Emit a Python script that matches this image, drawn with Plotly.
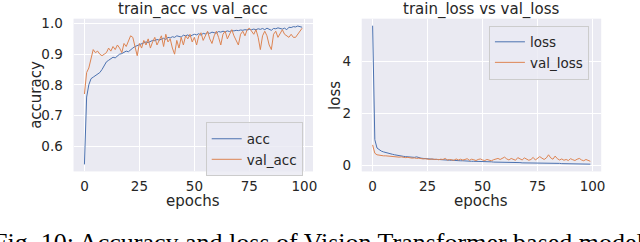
import plotly.graph_objects as go

epochs = list(range(100))

acc = [0.54, 0.76, 0.80, 0.82, 0.825, 0.83, 0.835, 0.84, 0.85, 0.865,
       0.875, 0.88, 0.885, 0.89, 0.888, 0.895, 0.90, 0.902, 0.905, 0.91,
       0.908, 0.915, 0.92, 0.925, 0.928, 0.93, 0.932, 0.935, 0.94, 0.938,
       0.942, 0.945, 0.944, 0.948, 0.946, 0.95, 0.952, 0.948, 0.955, 0.953,
       0.957, 0.955, 0.96, 0.958, 0.956, 0.962, 0.96, 0.963, 0.958, 0.962,
       0.965, 0.963, 0.967, 0.962, 0.968, 0.966, 0.97, 0.968, 0.972, 0.97,
       0.969, 0.974, 0.972, 0.975, 0.973, 0.976, 0.974, 0.977, 0.976, 0.978,
       0.977, 0.979, 0.978, 0.98, 0.979, 0.981, 0.98, 0.982, 0.98, 0.983,
       0.981, 0.984, 0.98, 0.985, 0.982, 0.978, 0.984, 0.983, 0.986, 0.984,
       0.982, 0.985, 0.98, 0.988, 0.987, 0.99, 0.989, 0.992, 0.99, 0.988]

val_acc = [0.77, 0.84, 0.855, 0.885, 0.915, 0.905, 0.91, 0.90, 0.895, 0.90,
           0.905, 0.92, 0.91, 0.925, 0.915, 0.93, 0.92, 0.905, 0.935, 0.925,
           0.945, 0.96, 0.955, 0.92, 0.895, 0.935, 0.92, 0.945, 0.93, 0.95,
           0.92, 0.94, 0.955, 0.93, 0.945, 0.96, 0.925, 0.965, 0.94, 0.95,
           0.92, 0.90, 0.945, 0.92, 0.955, 0.93, 0.96, 0.95, 0.965, 0.94,
           0.955, 0.93, 0.96, 0.97, 0.945, 0.96, 0.975, 0.95, 0.935, 0.96,
           0.975, 0.955, 0.93, 0.965, 0.975, 0.95, 0.965, 0.98, 0.96, 0.945,
           0.93, 0.965, 0.975, 0.96, 0.98, 0.985, 0.975, 0.965, 0.98, 0.955,
           0.915, 0.96, 0.975, 0.96, 0.93, 0.915, 0.965, 0.975, 0.955, 0.97,
           0.98, 0.965, 0.96, 0.955, 0.965, 0.955, 0.955, 0.965, 0.975, 0.985]

loss = [5.38, 1.00, 0.68, 0.60, 0.56, 0.53, 0.50, 0.48, 0.46, 0.44,
        0.42, 0.40, 0.39, 0.38, 0.36, 0.35, 0.34, 0.33, 0.33, 0.32,
        0.34, 0.30, 0.29, 0.28, 0.27, 0.26, 0.26, 0.25, 0.25, 0.24,
        0.24, 0.23, 0.23, 0.22, 0.22, 0.21, 0.21, 0.20, 0.20, 0.20,
        0.19, 0.19, 0.18, 0.18, 0.18, 0.17, 0.17, 0.17, 0.16, 0.16,
        0.16, 0.15, 0.15, 0.15, 0.15, 0.14, 0.14, 0.14, 0.14, 0.13,
        0.13, 0.13, 0.13, 0.12, 0.12, 0.12, 0.12, 0.12, 0.11, 0.11,
        0.11, 0.11, 0.11, 0.10, 0.10, 0.10, 0.10, 0.10, 0.10, 0.09,
        0.09, 0.09, 0.09, 0.09, 0.09, 0.09, 0.08, 0.08, 0.08, 0.08,
        0.08, 0.08, 0.08, 0.07, 0.07, 0.07, 0.07, 0.06, 0.06, 0.06]

val_loss = [0.80, 0.48, 0.42, 0.40, 0.39, 0.38, 0.38, 0.37, 0.36, 0.36,
            0.35, 0.34, 0.33, 0.34, 0.32, 0.31, 0.32, 0.30, 0.29, 0.30,
            0.28, 0.29, 0.27, 0.26, 0.27, 0.25, 0.24, 0.26, 0.24, 0.25,
            0.23, 0.25, 0.24, 0.28, 0.22, 0.24, 0.23, 0.21, 0.26, 0.22,
            0.25, 0.22, 0.24, 0.27, 0.21, 0.25, 0.23, 0.20, 0.24, 0.26,
            0.22, 0.20, 0.24, 0.21, 0.19, 0.23, 0.25, 0.28, 0.24, 0.30,
            0.33, 0.26, 0.22, 0.28, 0.24, 0.21, 0.31, 0.25, 0.22, 0.30,
            0.26, 0.21, 0.24, 0.32, 0.22, 0.28, 0.35, 0.29, 0.24, 0.30,
            0.42, 0.30, 0.25, 0.37, 0.27, 0.22, 0.26, 0.21, 0.24, 0.20,
            0.27, 0.23, 0.20, 0.25, 0.28, 0.22, 0.19, 0.24, 0.20, 0.17]

x_ticks = [0, 25, 50, 75, 100]
acc_ticks = [0.6, 0.7, 0.8, 0.9, 1.0]
loss_ticks = [0, 2, 4]

BLUE = "#4C72B0"
ORANGE = "#DD8452"
FONT = "DejaVu Sans"
W, H = 640, 242

def fx(px):
    return px / W

def fy(py):
    return 1 - py / H

fig = go.Figure()
fig.add_trace(go.Scatter(x=epochs, y=acc, name="acc", mode="lines",
                         line=dict(color=BLUE, width=1), xaxis="x", yaxis="y", legend="legend"))
fig.add_trace(go.Scatter(x=epochs, y=val_acc, name="val_acc", mode="lines",
                         line=dict(color=ORANGE, width=1), xaxis="x", yaxis="y", legend="legend"))
fig.add_trace(go.Scatter(x=epochs, y=loss, name="loss", mode="lines",
                         line=dict(color=BLUE, width=1), xaxis="x2", yaxis="y2", legend="legend2"))
fig.add_trace(go.Scatter(x=epochs, y=val_loss, name="val_loss", mode="lines",
                         line=dict(color=ORANGE, width=1), xaxis="x2", yaxis="y2", legend="legend2"))

tickfont = dict(family=FONT, size=13.5, color="#262626")
common_x = dict(range=[-4.95, 103.95], tickvals=x_ticks, showgrid=True, gridcolor="white",
                gridwidth=1, zeroline=False, showline=False, ticks="outside", ticklen=2,
                tickcolor="rgba(0,0,0,0)", tickfont=tickfont)
ydom = [fy(172), fy(16)]

fig.update_layout(
    width=W, height=H,
    margin=dict(l=0, r=0, t=0, b=0),
    paper_bgcolor="white",
    plot_bgcolor="#EAEAF2",
    xaxis=dict(domain=[fx(74), fx(315)], anchor="y", **common_x),
    yaxis=dict(domain=ydom, anchor="x", range=[0.517, 1.016], tickvals=acc_ticks,
               tickformat=".1f", showgrid=True, gridcolor="white", zeroline=False,
               ticks="outside", ticklen=7, tickcolor="rgba(0,0,0,0)", tickfont=tickfont),
    xaxis2=dict(domain=[fx(364), fx(605)], anchor="y2", **common_x),
    yaxis2=dict(domain=ydom, anchor="x2", range=[-0.22, 5.65], tickvals=loss_ticks,
                showgrid=True, gridcolor="white", zeroline=False,
                ticks="outside", ticklen=7, tickcolor="rgba(0,0,0,0)", tickfont=tickfont),
    legend=dict(x=fx(207), y=fy(122), xanchor="left", yanchor="top",
                bgcolor="rgba(234,234,242,0.8)", bordercolor="#CCCCCC", borderwidth=1,
                font=dict(family=FONT, size=13.5, color="#262626"), tracegroupgap=0),
    legend2=dict(x=fx(492), y=fy(23), xanchor="left", yanchor="top",
                 bgcolor="rgba(234,234,242,0.8)", bordercolor="#CCCCCC", borderwidth=1,
                 font=dict(family=FONT, size=13.5, color="#262626"), tracegroupgap=0),
    showlegend=True,
)

title_font = dict(family=FONT, size=15, color="#262626")
annotations = [
    dict(text="train_acc vs val_acc", x=fx(194.5), y=fy(6.5), xref="paper", yref="paper",
         showarrow=False, xanchor="center", yanchor="middle", font=title_font),
    dict(text="train_loss vs val_loss", x=fx(484.5), y=fy(6.5), xref="paper", yref="paper",
         showarrow=False, xanchor="center", yanchor="middle", font=title_font),
    dict(text="epochs", x=fx(194.5), y=fy(202), xref="paper", yref="paper",
         showarrow=False, xanchor="center", yanchor="middle", font=title_font),
    dict(text="epochs", x=fx(484.5), y=fy(202), xref="paper", yref="paper",
         showarrow=False, xanchor="center", yanchor="middle", font=title_font),
    dict(text="accuracy", x=fx(36), y=fy(94), xref="paper", yref="paper", textangle=-90,
         showarrow=False, xanchor="center", yanchor="middle", font=title_font),
    dict(text="loss", x=fx(337), y=fy(94), xref="paper", yref="paper", textangle=-90,
         showarrow=False, xanchor="center", yanchor="middle", font=title_font),
    dict(text="Fig. 10: Accuracy and loss of Vision Transformer based model",
         x=fx(320), y=fy(245), xref="paper", yref="paper",
         showarrow=False, xanchor="center", yanchor="middle",
         font=dict(family="Liberation Serif", size=26, color="black")),
]
fig.update_layout(annotations=annotations)

fig.write_html("out.html", config={"displayModeBar": False},
               post_script="document.body.style.margin='0';document.body.style.overflow='hidden';")
